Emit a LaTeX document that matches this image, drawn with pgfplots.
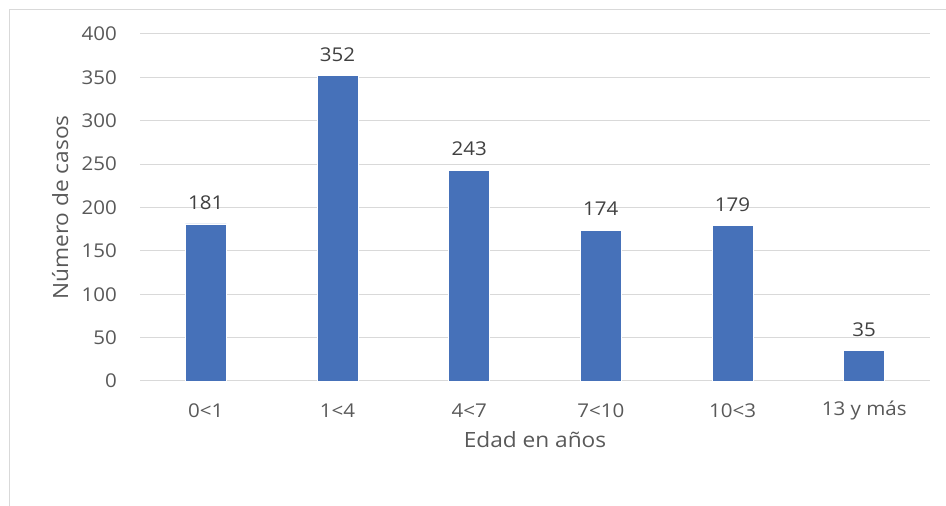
\documentclass[border=0pt]{standalone}
\usepackage{fontspec}
\setmainfont{Open Sans}[FakeStretch=1.08]
\usepackage{pgfplots}
\pgfplotsset{compat=1.18}
\definecolor{barblue}{HTML}{4671B9}
\definecolor{gridgray}{HTML}{D9D9D9}
\definecolor{ticktxt}{HTML}{595959}
\definecolor{lbltxt}{HTML}{404040}
\begin{document}
\begin{tikzpicture}[x=1pt,y=1pt]
\useasboundingbox (0,0) rectangle (946,506);
\draw[gridgray, line width=1.5pt] (9.5,0) -- (9.5,496.5) -- (946,496.5);
\begin{axis}[
  at={(140pt,125pt)}, anchor=south west,
  scale only axis, width=790pt, height=347pt,
  ybar, bar width=41pt,
  xmin=-0.5, xmax=5.5, ymin=0, ymax=400,
  xtick=data,
  xticklabels={0<1,1<4,4<7,7<10,10<3,13 y más},
  ytick={0,50,...,400},
  ymajorgrids, major grid style={gridgray, line width=1pt},
  axis line style={draw=none},
  major tick length=0pt,
  every tick label/.append style={font=\fontsize{19}{22}\selectfont, text=ticktxt},
  /pgf/number format/assume math mode=true,
  xticklabel style={anchor=center, yshift=-30pt, inner sep=0pt},
  yticklabel style={anchor=east, inner sep=0pt, xshift=-23pt},
  xlabel={Edad en años}, ylabel={Número de casos},
  label style={font=\fontsize{21}{25}\selectfont, text=ticktxt},
  xlabel style={at={(axis description cs:0.5,-0.170)}, anchor=center},
  ylabel style={at={(axis description cs:-0.101,0.5)}, anchor=center},
  nodes near coords,
  every node near coord/.append style={font=\fontsize{19}{22}\selectfont, text=lbltxt, anchor=center, yshift=21pt},
  clip=false,
  extra y ticks={0}, extra y tick labels={}, extra y tick style={grid style={gridgray, line width=1.5pt}},
]
\addplot[fill=barblue, draw=white, line width=0.5pt] coordinates {(0,181) (1,352) (2,243) (3,174) (4,179) (5,35)};
\end{axis}
\end{tikzpicture}
\end{document}
